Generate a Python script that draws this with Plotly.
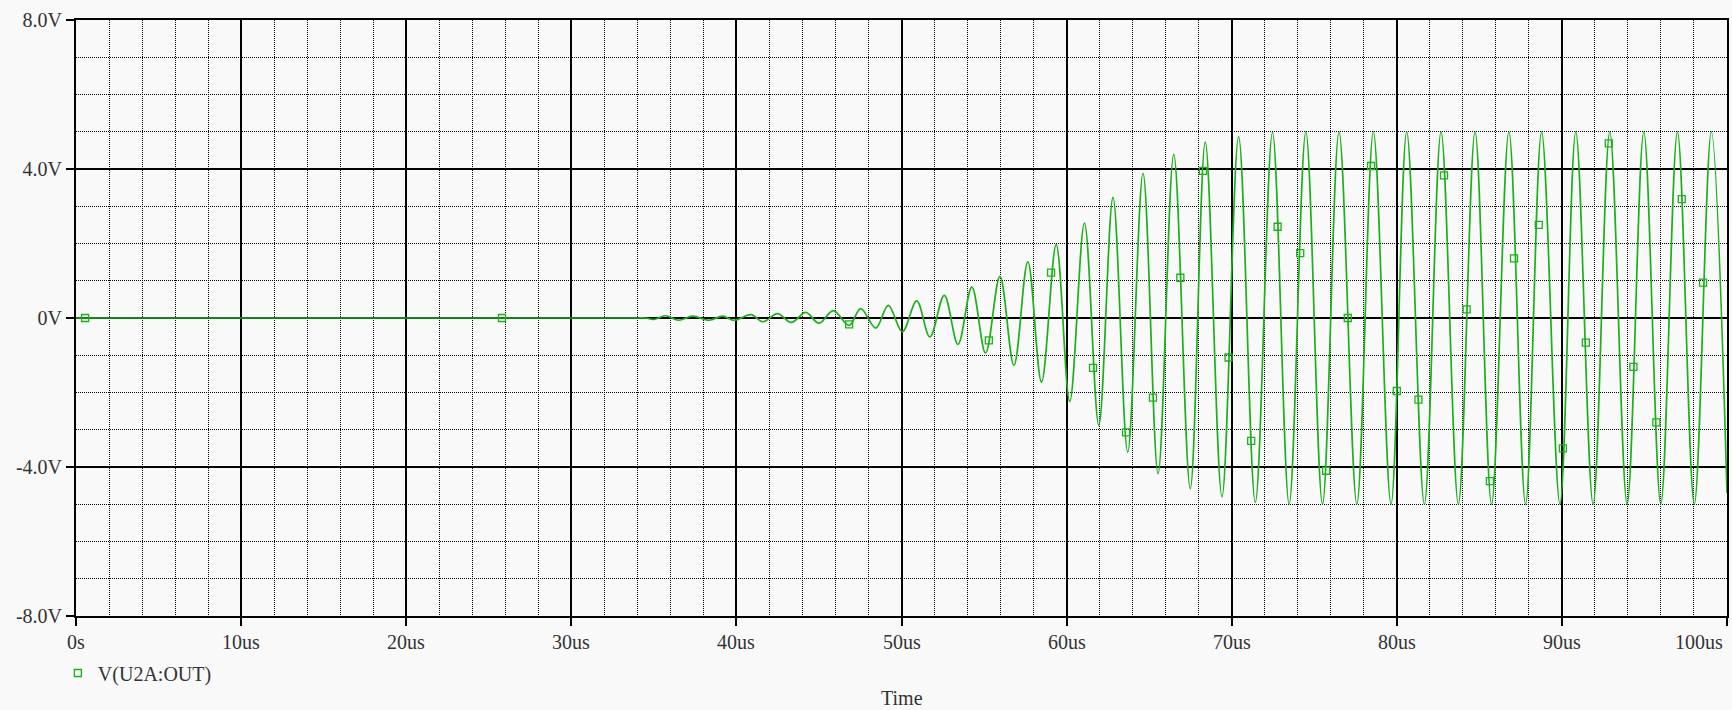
import plotly.graph_objects as go

# ---- data (time in microseconds, volts) ----
time_us = [0.0, 10.0, 20.0, 30.0, 34.0, 34.5, 35.0, 35.7, 36.5, 37.35, 38.35, 39.16, 39.87, 40.88, 41.62,
           42.49, 43.33, 44.2, 45.0, 45.87, 46.82, 47.53, 48.44, 49.2, 50.05,
           50.92, 51.72, 52.59, 53.42, 54.26, 55.09, 55.96, 56.81, 57.65, 58.48,
           59.37, 60.19, 61.08, 61.95, 62.81, 63.7, 64.63, 65.54, 66.49, 67.49,
           68.4, 69.41, 70.42, 71.43, 72.47, 73.48, 74.49, 75.5, 76.5, 77.58,
           78.58, 79.65, 80.6, 81.67, 82.68, 83.73, 84.74, 85.74, 86.79, 87.8,
           88.77, 89.88, 90.84, 91.89, 92.9, 93.95, 94.96, 95.99, 97.0, 98.02,
           99.05, 100.0]
volts = [0.0, 0.0, 0.0, 0.0, 0.0, 0.0, -0.04, 0.06, -0.06, 0.05, -0.06, 0.05, -0.06, 0.09, -0.10,
         0.12, -0.12, 0.15, -0.14, 0.20, -0.20, 0.25, -0.27, 0.34, -0.37,
         0.46, -0.51, 0.61, -0.71, 0.83, -0.94, 1.12, -1.27, 1.51, -1.72,
         1.97, -2.24, 2.55, -2.88, 3.24, -3.60, 3.88, -4.18, 4.39, -4.58,
         4.72, -4.80, 4.87, -4.95, 4.98, -5.0, 5.0, -5.0, 5.0, -5.0,
         5.0, -5.0, 5.0, -5.0, 5.0, -5.0, 5.0, -5.0, 5.0, -5.0,
         5.0, -5.0, 5.0, -5.0, 5.0, -5.0, 5.0, -5.0, 5.0, -5.0,
         5.0, -4.7]

marker_time_us = [0.55, 25.8, 46.83, 55.29, 59.06, 61.6, 63.6, 65.23, 66.89, 68.26,
                  69.81, 71.18, 72.78, 74.15, 75.72, 77.03, 78.44, 80.0, 81.31, 82.86,
                  84.23, 85.64, 87.1, 88.6, 90.06, 91.45, 92.84, 94.33, 95.72, 97.26,
                  98.55]
marker_volts = [0.0, 0.0, -0.17, -0.6, 1.22, -1.34, -3.07, -2.14, 1.08, 3.95,
                -1.06, -3.3, 2.45, 1.74, -4.1, 0.0, 4.08, -1.96, -2.19, 3.83,
                0.23, -4.38, 1.6, 2.5, -3.5, -0.66, 4.69, -1.31, -2.8, 3.19,
                0.95]

x_tick_vals = [0, 10, 20, 30, 40, 50, 60, 70, 80, 90, 100]
x_tick_text = ["0s", "10us", "20us", "30us", "40us", "50us", "60us", "70us", "80us", "90us", "100us"]
y_tick_vals = [-8, -4, 0, 4, 8]
y_tick_text = ["-8.0V", "-4.0V", "0V", "4.0V", "8.0V"]

GREEN = "#1cb01c"
FONT = "Liberation Serif"
TXT = "#333333"
BG = "#f9f9f9"

fig = go.Figure()
fig.add_trace(go.Scatter(
    x=time_us, y=volts, mode="lines",
    line=dict(color=GREEN, width=1.7, shape="spline", smoothing=1.0),
    showlegend=False, hoverinfo="skip"))
fig.add_trace(go.Scatter(
    x=marker_time_us, y=marker_volts, mode="markers", name="V(U2A:OUT)",
    marker=dict(symbol="square-open", size=7, color=GREEN, line=dict(width=1.3, color=GREEN))))

annotations = []
for v, t in zip(x_tick_vals, x_tick_text):
    last = v == x_tick_vals[-1]
    annotations.append(dict(
        x=v, y=-0.0436, xref="x", yref="paper", text=t, showarrow=False,
        xanchor="right" if last else "center", yanchor="middle",
        xshift=-2 if last else 0,
        font=dict(family=FONT, size=20, color=TXT)))
annotations.append(dict(
    x=0.5, y=-0.1376, xref="paper", yref="paper", text="Time", showarrow=False,
    xanchor="center", yanchor="middle", font=dict(family=FONT, size=20, color=TXT)))

fig.update_layout(
    width=1732, height=710,
    margin=dict(l=76, r=3, t=20, b=94),
    paper_bgcolor=BG, plot_bgcolor=BG,
    font=dict(family=FONT, size=20, color=TXT),
    annotations=annotations,
    legend=dict(x=-0.011, y=-0.0956, xanchor="left", yanchor="middle",
                orientation="h", bgcolor="rgba(0,0,0,0)", itemwidth=30,
                font=dict(family=FONT, size=20, color=TXT)),
    xaxis=dict(
        range=[0, 100], tickmode="array", tickvals=x_tick_vals, showticklabels=False,
        showgrid=True, gridcolor="black", gridwidth=1.5,
        minor=dict(tickmode="linear", tick0=0, dtick=2, showgrid=True,
                   gridcolor="black", gridwidth=1.2, griddash="1px,1px"),
        showline=True, linecolor="black", linewidth=2, mirror=True,
        ticks="outside", ticklen=8, tickwidth=2, tickcolor="black",
        zeroline=False),
    yaxis=dict(
        range=[-8, 8], tickmode="array", tickvals=y_tick_vals, ticktext=y_tick_text,
        showgrid=True, gridcolor="black", gridwidth=2,
        minor=dict(tickmode="linear", tick0=0, dtick=1, showgrid=True,
                   gridcolor="black", gridwidth=1.2, griddash="1px,1px"),
        showline=True, linecolor="black", linewidth=2, mirror=True,
        ticks="outside", ticklen=8, tickwidth=2, tickcolor="black",
        tickfont=dict(family=FONT, size=20, color=TXT),
        zeroline=False),
)

fig.write_html("out.html",
               config={"displayModeBar": False},
               post_script="document.body.style.margin='0';document.body.style.overflow='hidden';")
